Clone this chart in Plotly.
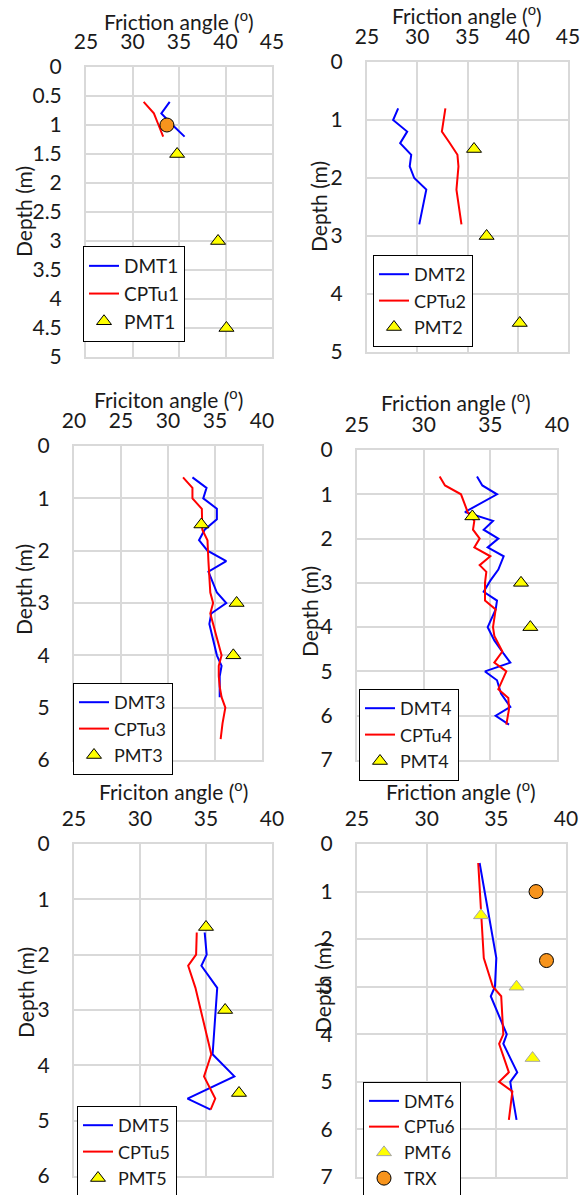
import plotly.graph_objects as go

# ---------------- data ----------------
# Panel 1
dmt1_phi = [34.0, 33.1, 34.3, 35.6]
dmt1_z = [0.6, 0.8, 1.0, 1.2]
cptu1_phi = [31.2, 32.3, 32.8, 33.3]
cptu1_z = [0.6, 0.8, 1.0, 1.2]
pmt1_phi = [34.8, 39.2, 40.1]
pmt1_z = [1.5, 3.0, 4.5]
trx1_phi = [33.7]
trx1_z = [1.0]

# Panel 2
dmt2_phi = [28.1, 27.6, 29.0, 28.3, 29.4, 29.25, 29.7, 30.9, 30.2]
dmt2_z = [0.8, 1.0, 1.2, 1.4, 1.6, 1.8, 2.0, 2.2, 2.8]
cptu2_phi = [32.8, 32.6, 32.45, 33.25, 34.0, 34.1, 34.0, 33.9, 34.4]
cptu2_z = [0.8, 1.0, 1.2, 1.4, 1.6, 1.8, 2.0, 2.2, 2.8]
pmt2_phi = [35.65, 36.9, 40.2]
pmt2_z = [1.5, 3.0, 4.5]

# Panel 3
dmt3_phi = [32.6, 34.1, 33.75, 35.2, 35.2, 33.9, 33.3, 34.2, 36.2, 34.3, 35.2,
            36.2, 34.6, 34.4, 35.2, 35.7, 35.5, 35.5]
dmt3_z = [0.6, 0.8, 1.0, 1.2, 1.4, 1.6, 1.8, 2.0, 2.2, 2.4, 2.8,
          3.0, 3.2, 3.4, 4.0, 4.2, 4.4, 4.8]
cptu3_phi = [31.6, 32.6, 32.6, 33.6, 33.65, 34.2, 34.3, 34.4, 34.5, 34.8, 34.5,
             35.1, 35.7, 35.4, 35.4, 35.5, 35.7, 36.1, 35.8, 35.6]
cptu3_z = [0.6, 0.8, 1.0, 1.2, 1.6, 1.8, 2.2, 2.6, 2.8, 3.0, 3.2,
           3.6, 4.0, 4.2, 4.4, 4.6, 4.8, 5.0, 5.3, 5.6]
pmt3_phi = [33.55, 37.3, 36.95]
pmt3_z = [1.5, 3.0, 4.0]

# Panel 4
dmt4_phi = [34.0, 34.4, 35.5, 33.1, 35.2, 34.5, 35.6, 34.8, 36.0, 35.6, 35.0, 34.5,
            35.5, 35.4, 34.8, 35.3, 36.0, 36.5, 34.6, 35.5, 35.8, 36.5, 35.4, 36.4]
dmt4_z = [0.6, 0.8, 1.0, 1.4, 1.6, 1.8, 2.0, 2.2, 2.4, 2.7, 2.95, 3.2,
          3.4, 3.6, 4.0, 4.3, 4.6, 4.8, 5.0, 5.2, 5.5, 5.8, 6.0, 6.2]
cptu4_phi = [31.2, 31.6, 32.8, 33.3, 33.8, 33.7, 34.2, 33.8, 35.0, 34.2, 34.7, 34.6,
             34.6, 35.4, 35.2, 35.3, 35.9, 35.3, 36.2, 35.6, 36.35, 36.4, 36.2]
cptu4_z = [0.6, 0.8, 1.0, 1.4, 1.6, 1.8, 2.0, 2.2, 2.4, 2.6, 2.75, 3.0,
           3.4, 3.6, 4.0, 4.2, 4.55, 4.8, 5.0, 5.4, 5.6, 5.85, 6.2]
pmt4_phi = [33.65, 37.3, 38.0]
pmt4_z = [1.5, 3.0, 4.0]

# Panel 5
dmt5_phi = [34.9, 35.05, 34.65, 35.85, 35.5, 37.15, 33.6, 35.35]
dmt5_z = [1.6, 2.0, 2.2, 2.6, 3.8, 4.2, 4.6, 4.8]
cptu5_phi = [34.3, 34.25, 33.65, 34.2, 35.4, 34.85, 35.7, 35.35]
cptu5_z = [1.6, 2.0, 2.2, 2.6, 3.8, 4.2, 4.6, 4.8]
pmt5_phi = [35.0, 36.45, 37.5]
pmt5_z = [1.5, 3.0, 4.5]

# Panel 6
dmt6_phi = [33.8, 35.0, 34.9, 34.6, 35.75, 35.5, 36.5, 36.0, 36.1, 36.45]
dmt6_z = [0.4, 2.4, 3.0, 3.2, 4.0, 4.2, 4.8, 5.0, 5.2, 5.8]
cptu6_phi = [33.7, 33.95, 34.1, 34.75, 35.35, 35.5, 35.2, 35.9, 35.2, 36.15, 35.9]
cptu6_z = [0.4, 1.6, 2.4, 3.0, 3.2, 4.0, 4.2, 4.8, 5.0, 5.2, 5.8]
pmt6_phi = [33.9, 36.45, 37.6]
pmt6_z = [1.5, 3.0, 4.5]
trx6_phi = [37.85, 38.6]
trx6_z = [1.0, 2.45]

x_titles = ["Friction angle (<sup>o</sup>)", "Friction angle (<sup>o</sup>)",
            "Friciton angle (<sup>o</sup>)", "Friction angle (<sup>o</sup>)",
            "Friciton angle (<sup>o</sup>)", "Friction angle (<sup>o</sup>)"]
y_title = "Depth (m)"

# ---------------- layout geometry (pixels) ----------------
W, H = 588, 1195
FONT = "Lato"
FS = 21
TXT = "#1a1a1a"
GRID = "#d9d9d9"

panels = [
    dict(box=(86, 272, 67, 357), xr=(25, 45), ymax=5, ydt=0.5, leg=(83, 246), lfs=19, yt=(23, 212), xt=(179, 20)),
    dict(box=(367, 568, 62, 352), xr=(25, 45), ymax=5, ydt=1, leg=(373, 255), lfs=18, yt=(319, 207), xt=(467, 14)),
    dict(box=(74, 262, 446, 760), xr=(20, 40), ymax=6, ydt=1, leg=(73, 683), lfs=18, yt=(23, 590), xt=(168, 398)),
    dict(box=(357, 557, 450, 760), xr=(25, 40), ymax=7, ydt=1, leg=(359, 689), lfs=18, yt=(309, 612), xt=(456, 401)),
    dict(box=(74, 272, 844, 1176), xr=(25, 40), ymax=6, ydt=1, leg=(77, 1106), lfs=18, yt=(25, 993), xt=(173, 790)),
    dict(box=(357, 566, 844, 1177), xr=(25, 40), ymax=7, ydt=1, leg=(363, 1082), lfs=17.5, yt=(322, 988), xt=(461, 790)),
]

series = [
    (dmt1_phi, dmt1_z, cptu1_phi, cptu1_z, pmt1_phi, pmt1_z, "1"),
    (dmt2_phi, dmt2_z, cptu2_phi, cptu2_z, pmt2_phi, pmt2_z, "2"),
    (dmt3_phi, dmt3_z, cptu3_phi, cptu3_z, pmt3_phi, pmt3_z, "3"),
    (dmt4_phi, dmt4_z, cptu4_phi, cptu4_z, pmt4_phi, pmt4_z, "4"),
    (dmt5_phi, dmt5_z, cptu5_phi, cptu5_z, pmt5_phi, pmt5_z, "5"),
    (dmt6_phi, dmt6_z, cptu6_phi, cptu6_z, pmt6_phi, pmt6_z, "6"),
]

fig = go.Figure()
layout = dict(width=W, height=H, autosize=False,
              margin=dict(l=0, r=0, t=0, b=0, autoexpand=False),
              paper_bgcolor="white", plot_bgcolor="white",
              font=dict(family=FONT, size=FS, color=TXT), annotations=[])

for i, (p, s) in enumerate(zip(panels, series)):
    n = i + 1
    sfx = "" if n == 1 else str(n)
    xa, ya = "x" + sfx, "y" + sfx
    leg = "legend" + sfx
    dphi, dz, cphi, cz, pphi, pz, tag = s
    fig.add_trace(go.Scatter(x=dphi, y=dz, mode="lines", name="DMT" + tag,
                             line=dict(color="#0000ff", width=2), xaxis=xa, yaxis=ya, legend=leg))
    fig.add_trace(go.Scatter(x=cphi, y=cz, mode="lines", name="CPTu" + tag,
                             line=dict(color="#ff0000", width=2), xaxis=xa, yaxis=ya, legend=leg))
    tri_edge = "#a6a6a6" if n == 6 else "#000000"
    fig.add_trace(go.Scatter(x=pphi, y=pz, mode="markers", name="PMT" + tag,
                             marker=dict(symbol="triangle-up", size=13, color="#ffff00",
                                         line=dict(color=tri_edge, width=1)),
                             xaxis=xa, yaxis=ya, legend=leg))
    if n == 1:
        fig.add_trace(go.Scatter(x=trx1_phi, y=trx1_z, mode="markers", name="TRX", showlegend=False,
                                 marker=dict(symbol="circle", size=14, color="#f7941d",
                                             line=dict(color="#000000", width=1)),
                                 xaxis=xa, yaxis=ya))
    if n == 6:
        fig.add_trace(go.Scatter(x=trx6_phi, y=trx6_z, mode="markers", name="TRX",
                                 marker=dict(symbol="circle", size=14, color="#f7941d",
                                             line=dict(color="#000000", width=1)),
                                 xaxis=xa, yaxis=ya, legend=leg))

    l, r, t, b = p["box"]
    layout["xaxis" + sfx] = dict(domain=[l / W, r / W], range=list(p["xr"]), dtick=5, tick0=0,
                                 side="top", anchor=ya, showgrid=True, gridcolor=GRID, gridwidth=2,
                                 zeroline=False, showline=True, linecolor=GRID, linewidth=2, mirror=True,
                                 automargin=False,
                                 ticks="", ticklabelstandoff=8, tickfont=dict(size=FS, color=TXT))
    layout["yaxis" + sfx] = dict(domain=[1 - b / H, 1 - t / H], range=[p["ymax"], 0], dtick=p["ydt"], tick0=0,
                                 anchor=xa, showgrid=True, gridcolor=GRID, gridwidth=2,
                                 zeroline=False, showline=True, linecolor=GRID, linewidth=2, mirror=True,
                                 automargin=False,
                                 ticks="", ticklabelstandoff=18, tickfont=dict(size=FS, color=TXT))
    lx, ly = p["leg"]
    layout[leg] = dict(x=lx / W, y=1 - ly / H, xanchor="left", yanchor="top",
                       bgcolor="white", bordercolor="#000000", borderwidth=1,
                       font=dict(family=FONT, size=p["lfs"], color=TXT), tracegroupgap=0)
    layout["annotations"].append(dict(text=x_titles[i], x=p["xt"][0] / W, y=1 - p["xt"][1] / H,
                                      xref="paper", yref="paper", showarrow=False,
                                      xanchor="center", yanchor="middle",
                                      font=dict(family=FONT, size=FS, color=TXT)))
    layout["annotations"].append(dict(text=y_title, x=p["yt"][0] / W, y=1 - p["yt"][1] / H,
                                      xref="paper", yref="paper", showarrow=False, textangle=-90,
                                      xanchor="center", yanchor="middle",
                                      font=dict(family=FONT, size=FS, color=TXT)))

fig.update_layout(**layout)
fig.write_html("out.html")
